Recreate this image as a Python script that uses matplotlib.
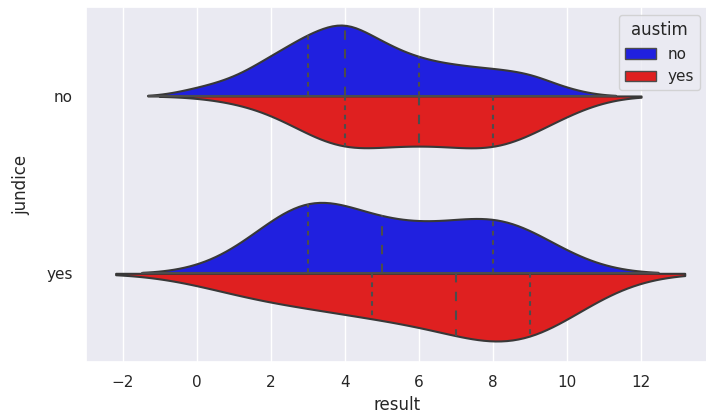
import numpy as np
import matplotlib
matplotlib.use("Agg")
import matplotlib.pyplot as plt
from matplotlib.patches import Patch
import seaborn as sns

# ---- data (counts of each integer "result" score 0..10) ----
scores = list(range(11))
jundice_levels = ["no", "yes"]
austim_levels = ["no", "yes"]
counts_no_no = [12, 25, 57, 88, 112, 76, 53, 44, 39, 34, 10]
counts_no_yes = [0, 1, 2, 6, 10, 7, 8, 7, 10, 6, 3]
counts_yes_no = [0, 1, 3, 8, 4, 3, 4, 2, 6, 3, 1]
counts_yes_yes = [0, 1, 1, 1, 1, 2, 1, 2, 2, 4, 1]

palette = {"no": "blue", "yes": "red"}

sns.set_theme(style="darkgrid")

groups = {
    ("no", "no"): counts_no_no,
    ("no", "yes"): counts_no_yes,
    ("yes", "no"): counts_yes_no,
    ("yes", "yes"): counts_yes_yes,
}


def expand(counts):
    return np.repeat(np.array(scores, dtype=float), counts)


def kde(values, cut=2, gridsize=100):
    n = len(values)
    bw = values.std(ddof=1) * n ** (-1 / 5)
    support = np.linspace(values.min() - cut * bw, values.max() + cut * bw, gridsize)
    z = (support[:, None] - values[None, :]) / bw
    dens = np.exp(-0.5 * z ** 2).sum(axis=1) / (n * bw * np.sqrt(2 * np.pi))
    return support, dens


fig = plt.figure(figsize=(7.06, 4.16), dpi=100)
ax = fig.add_axes([85.7 / 706, 54 / 416, (708 - 85.7) / 706, (362 - 7.3) / 416])

edge = "#383838"
gray = "#4c4c4c"
lw = 1.5
half_width = 0.4

for i, jl in enumerate(jundice_levels):
    res = {}
    for al in austim_levels:
        vals = expand(groups[(jl, al)])
        s, d = kde(vals)
        res[al] = (vals, s, d)
    scale = max(r[2].max() for r in res.values())
    for j, al in enumerate(austim_levels):
        vals, s, d = res[al]
        d = d / scale * half_width
        color = sns.desaturate(palette[al], 0.75)
        sign = -1 if j == 0 else 1
        ax.fill_between(s, i, i + sign * d, facecolor=color, edgecolor=edge,
                        linewidth=lw, zorder=2)
        q25, q50, q75 = np.percentile(vals, [25, 50, 75])
        for q, dl in ((q25, lw * 1.5), (q50, lw * 3), (q75, lw * 1.5)):
            h = np.interp(q, s, d)
            ax.plot([q, q], [i, i + sign * h], color=gray, linewidth=lw,
                    dashes=[dl, dl], zorder=3)
    ax.plot([res["no"][1].min(), res["no"][1].max()], [i, i], color=gray,
            linewidth=lw, zorder=2.5)

ax.set_xlim(-3.0, 13.82)
ax.set_ylim(1.5, -0.5)
ax.set_yticks([0, 1])
ax.set_yticklabels(jundice_levels)
ax.yaxis.grid(False)
ax.set_xlabel("result")
ax.set_ylabel("jundice", labelpad=11)

handles = [Patch(facecolor=sns.desaturate(palette[a], 0.75), edgecolor=gray,
                 linewidth=1, label=a) for a in austim_levels]
ax.legend(handles=handles, title="austim", loc="upper right")

fig.savefig("out.png", dpi=100)
